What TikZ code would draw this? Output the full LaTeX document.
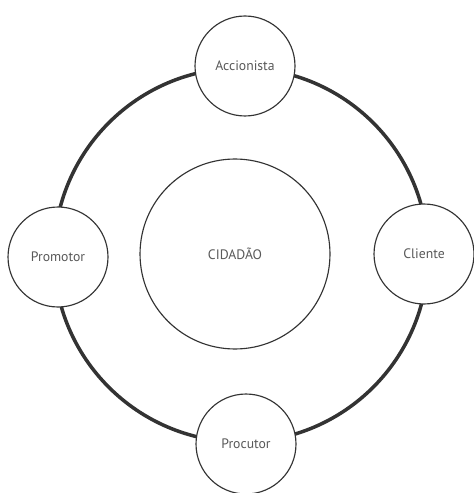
\documentclass[tikz,border=0pt]{standalone}
\usepackage{fontspec}
\setmainfont{PT Sans}
\usepackage{tikz}
\usetikzlibrary{positioning}
\usetikzlibrary{calc}

\begin{document}
\begin{tikzpicture}[
    x=0.02cm, y=-0.02cm,   % one unit is one pixel of the reference
    ]
% -------------------------------------------------
\tikzset{
  base/.style={draw=black!80, circle, fill=white, align=center, text=black!65,
               font=\fontsize{7.8}{9}\selectfont},
  role/.style={base, line width=0.65pt, minimum size=2cm},
  core/.style={base, line width=0.65pt, minimum size=3.8cm},
  ring/.style={draw=black!80, line width=2pt}
}
% -------------------------------------------------
\useasboundingbox (0,0) rectangle (473,493);

\coordinate (mid) at (241,255);
\draw [ring] (mid) circle (3.74cm);

% Placing the nodes
\node [core] (c0) at (235,254) {CIDADÃO};

\node [role] (r0) at (245,66)  {Accionista};
\node [role] (r1) at (58,257)  {Promotor};
\node [role] (r2) at (424,254) {Cliente};
\node [role] (r3) at (246,444) {Procutor};

\end{tikzpicture}
\end{document}
